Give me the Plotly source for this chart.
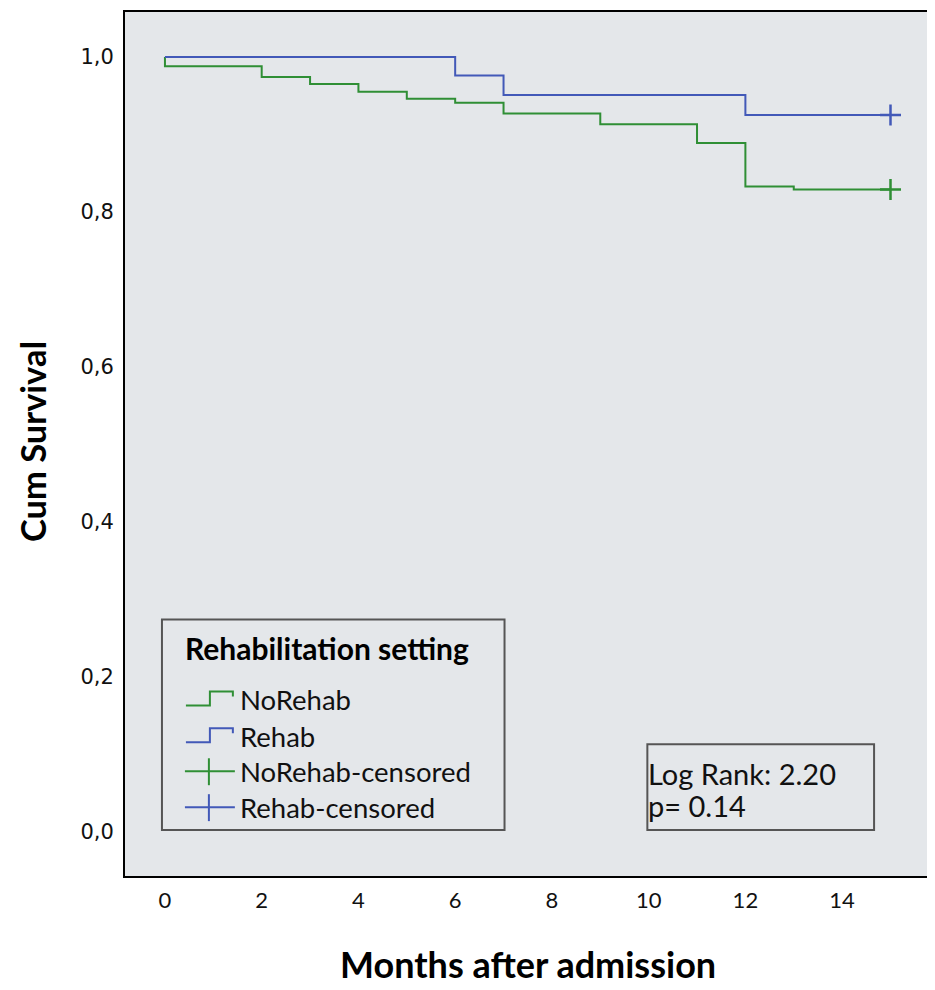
import plotly.graph_objects as go

# ---- data ----
norehab_months = [0, 0, 2, 3, 4, 5, 6, 7, 9, 11, 12, 13, 15]
norehab_surv = [1.0, 0.988, 0.974, 0.965, 0.955, 0.946, 0.941, 0.927, 0.913, 0.889, 0.833, 0.829, 0.829]
rehab_months = [0, 6, 7, 12, 15]
rehab_surv = [1.0, 0.976, 0.951, 0.925, 0.925]
norehab_censor_months = [15]
norehab_censor_surv = [0.829]
rehab_censor_months = [15]
rehab_censor_surv = [0.925]
x_ticks = [0, 2, 4, 6, 8, 10, 12, 14]
y_ticks = [0.0, 0.2, 0.4, 0.6, 0.8, 1.0]
legend_title = "Rehabilitation setting"
legend_labels = ["NoRehab", "Rehab", "NoRehab-censored", "Rehab-censored"]
stats_text = ["Log Rank: 2.20", "p= 0.14"]

GREEN = "#2F8F35"
BLUE = "#4259B8"
BG = "#E4E7EA"
OFF = 8  # browser default body margin
W, H = 927, 982
ML, MR, MT, MB = 117, 3, 2, 114
PW = W - ML - MR
PH = H - MT - MB
FONT = "Lato, 'Open Sans', sans-serif"

def px(x):  # page pixel -> paper
    return (x - OFF - ML) / PW

def py(y):
    return (OFF + MT + PH - y) / PH

fig = go.Figure()
fig.add_trace(go.Scatter(x=norehab_months, y=norehab_surv, mode="lines", line_shape="hv",
                         line=dict(color=GREEN, width=2), name=legend_labels[0], showlegend=False))
fig.add_trace(go.Scatter(x=rehab_months, y=rehab_surv, mode="lines", line_shape="hv",
                         line=dict(color=BLUE, width=2), name=legend_labels[1], showlegend=False))
fig.add_trace(go.Scatter(x=norehab_censor_months, y=norehab_censor_surv, mode="markers",
                         marker=dict(symbol="cross-thin", size=15, line=dict(color=GREEN, width=2.5)),
                         name=legend_labels[2], showlegend=False))
fig.add_trace(go.Scatter(x=rehab_censor_months, y=rehab_censor_surv, mode="markers",
                         marker=dict(symbol="cross-thin", size=15, line=dict(color=BLUE, width=2.5)),
                         name=legend_labels[3], showlegend=False))

shapes = []
annotations = []

# legend box
shapes.append(dict(type="rect", xref="paper", yref="paper", x0=px(162), x1=px(505), y0=py(830), y1=py(619),
                   line=dict(color="#555555", width=2), fillcolor=BG, layer="above"))
annotations.append(dict(xref="paper", yref="paper", x=px(183), y=py(647), xanchor="left", yanchor="middle",
                        text="<b>" + legend_title + "</b>", showarrow=False,
                        font=dict(family=FONT, size=30, color="black")))
entry_y = [699, 736, 771, 807]
entry_colors = [GREEN, BLUE, GREEN, BLUE]
for i, (lab, ey, col) in enumerate(zip(legend_labels, entry_y, entry_colors)):
    if i < 2:
        path = (f"M {px(186)},{py(ey+6)} L {px(210)},{py(ey+6)} L {px(210)},{py(ey-8)} "
                f"L {px(233)},{py(ey-8)} L {px(233)},{py(ey-3)}")
        shapes.append(dict(type="path", xref="paper", yref="paper", path=path,
                           line=dict(color=col, width=2), layer="above"))
    else:
        shapes.append(dict(type="line", xref="paper", yref="paper", x0=px(185), x1=px(235),
                           y0=py(ey), y1=py(ey), line=dict(color=col, width=2), layer="above"))
        shapes.append(dict(type="line", xref="paper", yref="paper", x0=px(209), x1=px(209),
                           y0=py(ey - 13), y1=py(ey + 14), line=dict(color=col, width=2), layer="above"))
    annotations.append(dict(xref="paper", yref="paper", x=px(238), y=py(ey), xanchor="left", yanchor="middle",
                            text=lab, showarrow=False, font=dict(family=FONT, size=27.5, color="#111111")))

# stats box
shapes.append(dict(type="rect", xref="paper", yref="paper", x0=px(648), x1=px(875), y0=py(830), y1=py(744),
                   line=dict(color="#555555", width=2), fillcolor=BG, layer="above"))
for t, ty in zip(stats_text, [773, 805]):
    annotations.append(dict(xref="paper", yref="paper", x=px(647), y=py(ty), xanchor="left", yanchor="middle",
                            text=t, showarrow=False, font=dict(family=FONT, size=29, color="#111111")))

# axis titles
annotations.append(dict(xref="paper", yref="paper", x=px(528), y=py(964), xanchor="center", yanchor="middle",
                        text="<b>Months after admission</b>", showarrow=False,
                        font=dict(family=FONT, size=36, color="black")))
annotations.append(dict(xref="paper", yref="paper", x=px(32), y=py(441), xanchor="center", yanchor="middle",
                        text="<b>Cum Survival</b>", showarrow=False, textangle=-90,
                        font=dict(family=FONT, size=34.5, color="black")))

fig.update_layout(
    width=W, height=H,
    margin=dict(l=ML, r=MR, t=MT, b=MB),
    paper_bgcolor="white", plot_bgcolor=BG,
    separators=",.",
    shapes=shapes, annotations=annotations,
    showlegend=False,
)
fig.update_xaxes(range=[-0.826, -0.826 + PW / 48.43], tickvals=x_ticks, showgrid=False, zeroline=False,
                 showline=True, mirror=True, linecolor="black", linewidth=2, ticks="",
                 ticklabelstandoff=4, tickfont=dict(family=FONT, size=22, color="#111111"))
fig.update_yaxes(range=[-0.0566, -0.0566 + PH / 777.0], tickvals=y_ticks, tickformat=".1f", showgrid=False,
                 zeroline=False, showline=True, mirror=True, linecolor="black", linewidth=2, ticks="",
                 ticklabelstandoff=5, tickfont=dict(family="DejaVu Sans", size=21, color="#111111"))

fig.write_html("out.html")
